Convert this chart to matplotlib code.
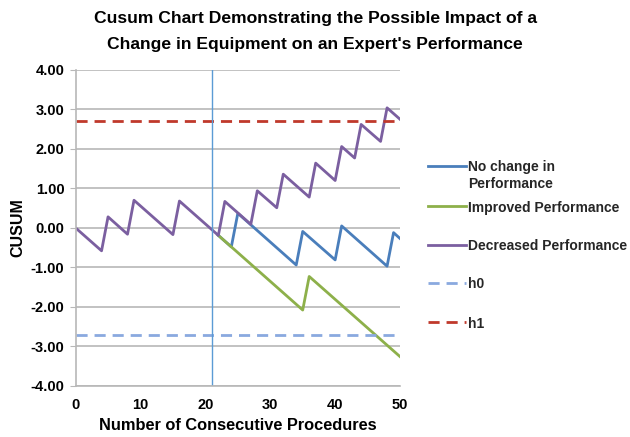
import matplotlib
matplotlib.use("Agg")
import matplotlib.pyplot as plt
from matplotlib.lines import Line2D

plt.rcParams['font.family'] = 'Liberation Sans'
plt.rcParams['font.weight'] = 'bold'

# vertices of each cusum trace (procedure number, cusum value)
decreased_x = [0, 4, 5, 8, 9, 15, 16, 22, 23, 27, 28, 31, 32, 36, 37, 40, 41, 43, 44, 47, 48, 50]
decreased_y = [0.00, -0.58, 0.28, -0.16, 0.70, -0.17, 0.68, -0.19, 0.67, 0.09, 0.94, 0.51,
               1.36, 0.78, 1.64, 1.20, 2.06, 1.77, 2.62, 2.19, 3.04, 2.75]

nochange_x = [22, 24, 25, 34, 35, 40, 41, 48, 49, 50]
nochange_y = [-0.19, -0.48, 0.37, -0.94, -0.09, -0.81, 0.05, -0.97, -0.12, -0.27]

improved_x = [22, 35, 36, 50]
improved_y = [-0.19, -2.08, -1.23, -3.26]

h0 = -2.70
h1 = 2.70
change_point = 21

y_ticks = [-4, -3, -2, -1, 0, 1, 2, 3, 4]
x_ticks = [0, 10, 20, 30, 40, 50]

fig = plt.figure(figsize=(6.3, 4.37), dpi=100)
ax = fig.add_axes([0.12, 0.117, 0.515, 0.723])

ax.plot(nochange_x, nochange_y, color='#4a7ebb', lw=2, label='No change in\nPerformance')
ax.plot(improved_x, improved_y, color='#8db04a', lw=2, label='Improved Performance')
ax.plot(decreased_x, decreased_y, color='#7b5fa0', lw=2, label='Decreased Performance')
ax.axhline(h0, color='#8aa9df', lw=2, dashes=(4, 2.5), label='h0')
ax.axhline(h1, color='#c0392b', lw=2, dashes=(4, 2.5), label='h1')
ax.axvline(change_point, color='#5b9bd5', lw=1)

ax.set_xlim(0, 50)
ax.set_ylim(-4, 4)
ax.set_xticks(x_ticks)
ax.set_yticks(y_ticks)
ax.set_yticklabels([f"{v:.2f}" for v in y_ticks])
ax.yaxis.grid(True, color='#b8b8b8', lw=1.2)
ax.set_axisbelow(True)
for side in ['top', 'right']:
    ax.spines[side].set_visible(False)
for side in ['left', 'bottom']:
    ax.spines[side].set_color('#b8b8b8')
    ax.spines[side].set_linewidth(1.2)
ax.tick_params(axis='y', length=4, color='#b8b8b8', labelsize=10.5, pad=4)
ax.tick_params(axis='x', length=0, labelsize=10.5, pad=9)

ax.set_xlabel("Number of Consecutive Procedures", fontsize=11.8, fontweight='bold', labelpad=4)
ax.set_ylabel("CUSUM", fontsize=11.5, fontweight='bold', labelpad=4)

fig.suptitle("Cusum Chart Demonstrating the Possible Impact of a\n"
             "Change in Equipment on an Expert's Performance",
             x=0.5, y=0.974, fontsize=12.6, fontweight='bold', linespacing=1.85)

# legend drawn by hand so the two-line label lines up with its first line
legend_rows = [166, 206, 245, 283, 322]  # pixel rows from the top
for line, row in zip(ax.get_lines()[:5], legend_rows):
    yf = 1 - row / 437
    fig.add_artist(Line2D([428 / 630, 466 / 630], [yf, yf], transform=fig.transFigure,
                          color=line.get_color(), lw=2, linestyle=line.get_linestyle(),
                          dashes=(4, 2.5) if line.get_label() in ('h0', 'h1') else (None, None)))
    for i, part in enumerate(line.get_label().split('\n')):
        fig.text(468 / 630, 1 - (row + i * 17) / 437, part, fontsize=10, fontweight='bold',
                 color='#262626', va='center_baseline', ha='left')

fig.savefig("out.png", dpi=100)
